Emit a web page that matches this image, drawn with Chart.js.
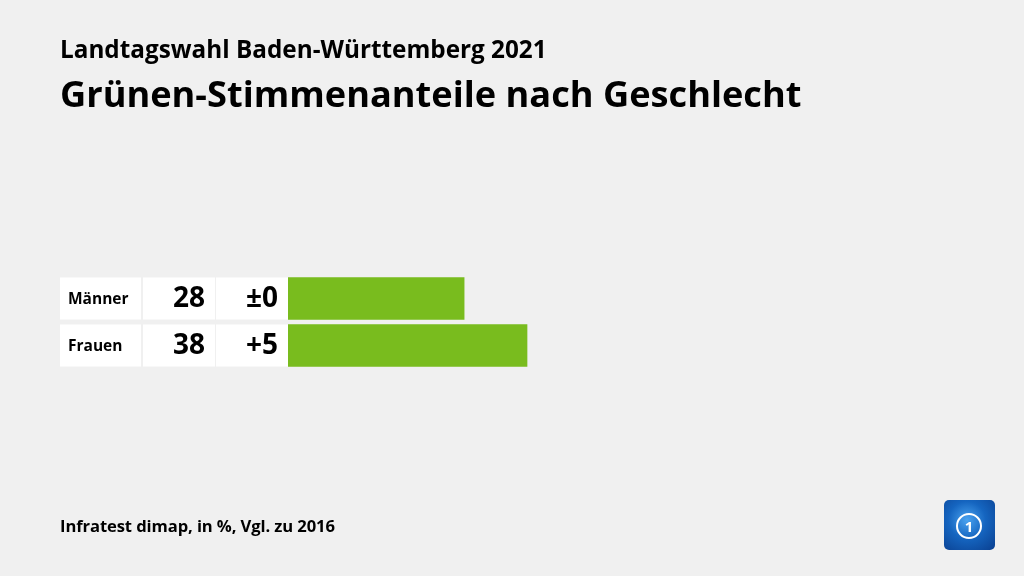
<!DOCTYPE html>
<html>
<head>
<meta charset="utf-8">
<script src="https://cdn.jsdelivr.net/npm/chart.js@4"></script>
<style>
  html, body { margin: 0; padding: 0; background: #f0f0f0; }
  #wrap { position: relative; width: 1024px; height: 576px; overflow: hidden; font-family: "Open Sans", sans-serif; color: #000; }
  #chart { position: absolute; left: 0; top: 0; }
  .txt { position: absolute; left: 60px; font-weight: 700; white-space: nowrap; }
  #sup { top: 32px; font-size: 24.3px; letter-spacing: 0; }
  #title { top: 68px; font-size: 36.2px; letter-spacing: 0; }
  #foot { top: 514px; font-size: 16.6px; letter-spacing: -0.1px; }
  #logo { position: absolute; left: 944px; top: 500px; width: 51px; height: 50px; border-radius: 5px;
          background: radial-gradient(circle at 45% 40%, #4aa3f0 0%, #1565c0 45%, #0a3f8f 100%); }
  #logo .ring { position: absolute; left: 12px; top: 13px; width: 22px; height: 22px; border-radius: 50%;
                border: 2px solid #fff; color: #fff; font: 700 15px "Open Sans", sans-serif; text-align: center; line-height: 22px; }
</style>
</head>
<body>
<div id="wrap">
  <canvas id="chart" width="1024" height="576"></canvas>
  <div class="txt" id="sup">Landtagswahl Baden-Württemberg 2021</div>
  <div class="txt" id="title">Grünen-Stimmenanteile nach Geschlecht</div>
  <div class="txt" id="foot">Infratest dimap, in %, Vgl. zu 2016</div>
  <div id="logo"><div class="ring">1</div></div>
</div>
<script>
var categories = ['Männer', 'Frauen'];
var shares = [28, 38];
var changes = ['±0', '+5'];
var barColor = '#79bc1e';

// white table cells left of the bars, drawn at the category positions
var cellsPlugin = {
    id: 'cells',
    beforeDatasetsDraw: function (chart) {
        var ctx = chart.ctx;
        var yScale = chart.scales.y;
        var h = 42;
        ctx.save();
        categories.forEach(function (label, i) {
            var cy = yScale.getPixelForValue(i);
            var top = cy - h / 2;
            ctx.fillStyle = '#ffffff';
            ctx.fillRect(60, top, 81, h);
            ctx.fillRect(143, top, 72, h);
            ctx.fillRect(216, top, 72, h);
            ctx.fillStyle = '#000000';
            ctx.textBaseline = 'middle';
            ctx.textAlign = 'left';
            ctx.font = '700 15.5px "Open Sans", sans-serif';
            ctx.fillText(label, 68, cy + 1);
            ctx.textAlign = 'right';
            ctx.font = '700 28px "Open Sans", sans-serif';
            ctx.fillText(String(shares[i]), 205, cy + 1);
            ctx.fillText(changes[i], 278, cy + 1);
        });
        ctx.restore();
    }
};

new Chart(document.getElementById('chart').getContext('2d'), {
    type: 'bar',
    data: {
        labels: categories,
        datasets: [{
            data: shares,
            backgroundColor: barColor,
            barThickness: 42,
            borderWidth: 0
        }]
    },
    options: {
        indexAxis: 'y',
        responsive: false,
        animation: false,
        layout: { padding: { left: 288, right: 107, top: 275, bottom: 207 } },
        plugins: { legend: { display: false }, tooltip: { enabled: false } },
        scales: {
            x: { display: false, min: 0, max: 100 },
            y: { display: false }
        }
    },
    plugins: [cellsPlugin]
});
</script>
</body>
</html>
